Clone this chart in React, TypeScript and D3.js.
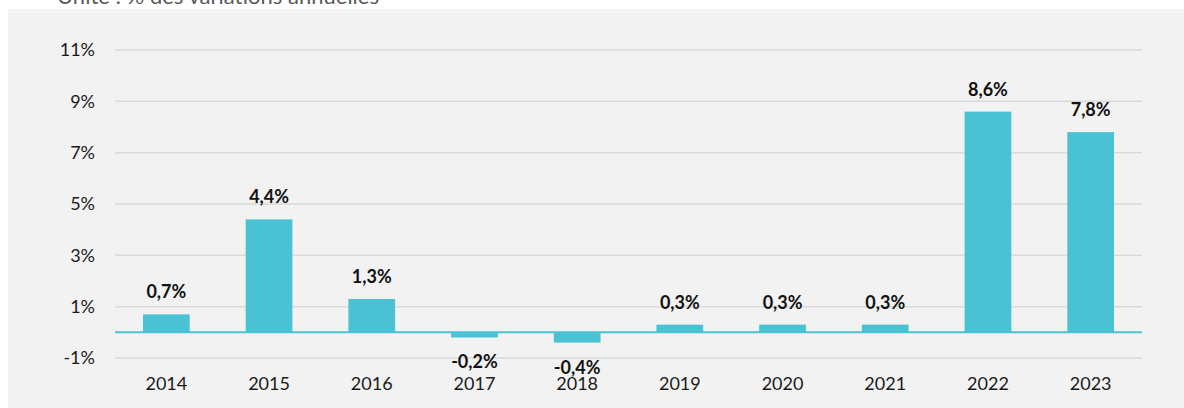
import { useEffect, useRef } from "react";
import * as d3 from "d3";

// values
const years = ["2014", "2015", "2016", "2017", "2018", "2019", "2020", "2021", "2022", "2023"];
const variations = [0.7, 4.4, 1.3, -0.2, -0.4, 0.3, 0.3, 0.3, 8.6, 7.8];
const yTicks = [-1, 1, 3, 5, 7, 9, 11];
const title = "Unité : % des variations annuelles";

const W = 1184;
const H = 408;
const FONT = "Lato, 'Open Sans', sans-serif";
const BAR = "#4AC2D4";

const fmt = (v: number) => `${v.toFixed(1).replace(".", ",")}%`;

const App = () => {
  const svgRef = useRef<SVGSVGElement>(null);

  useEffect(() => {
    const svg = d3.select(svgRef.current);
    svg.selectAll("*").remove();

    // panel
    svg.append("rect").attr("x", 8).attr("y", 9).attr("width", W - 8).attr("height", H - 9).attr("fill", "#f2f2f2");

    // title, clipped by the top edge like the reference
    svg
      .append("text")
      .attr("x", 57)
      .attr("y", 4)
      .attr("font-family", FONT)
      .attr("font-size", "22px")
      .attr("fill", "#595959")
      .text(title);

    const x = d3.scaleBand<string>().domain(years).range([115, 1142]).paddingInner(0.545).paddingOuter(0.2725);
    const y = d3.scaleLinear().domain([-1, 11]).range([358, 50]);

    // grid
    svg
      .append("g")
      .selectAll("line")
      .data(yTicks)
      .enter()
      .append("line")
      .attr("x1", 115)
      .attr("x2", 1142)
      .attr("y1", (d) => y(d))
      .attr("y2", (d) => y(d))
      .attr("stroke", "#d9d9d9")
      .attr("stroke-width", 1.5);

    // y labels
    svg
      .append("g")
      .selectAll("text")
      .data(yTicks)
      .enter()
      .append("text")
      .attr("x", 95)
      .attr("y", (d) => y(d))
      .attr("dy", "0.35em")
      .attr("text-anchor", "end")
      .attr("font-family", FONT)
      .attr("font-size", "18px")
      .attr("fill", "#1a1a1a")
      .text((d) => `${d}%`);

    // bars
    svg
      .append("g")
      .selectAll("rect")
      .data(variations)
      .enter()
      .append("rect")
      .attr("x", (_, i) => x(years[i])!)
      .attr("width", x.bandwidth())
      .attr("y", (d) => y(Math.max(0, d)))
      .attr("height", (d) => Math.abs(y(d) - y(0)))
      .attr("fill", BAR);

    // zero line
    svg
      .append("line")
      .attr("x1", 115)
      .attr("x2", 1142)
      .attr("y1", y(0))
      .attr("y2", y(0))
      .attr("stroke", BAR)
      .attr("stroke-width", 2);

    // value labels
    svg
      .append("g")
      .selectAll("text")
      .data(variations)
      .enter()
      .append("text")
      .attr("x", (_, i) => x(years[i])! + x.bandwidth() / 2)
      .attr("y", (d) => (d >= 0 ? y(d) - 16 : y(d) + 31))
      .attr("text-anchor", "middle")
      .attr("font-family", FONT)
      .attr("font-weight", "bold")
      .attr("font-size", "18px")
      .attr("fill", "#111")
      .text((d) => fmt(d));

    // x labels
    svg
      .append("g")
      .selectAll("text")
      .data(years)
      .enter()
      .append("text")
      .attr("x", (d) => x(d)! + x.bandwidth() / 2)
      .attr("y", 390)
      .attr("text-anchor", "middle")
      .attr("font-family", FONT)
      .attr("font-size", "18px")
      .attr("fill", "#1a1a1a")
      .text((d) => d);
  }, []);

  return <svg ref={svgRef} width={W} height={H} style={{ position: "absolute", left: 0, top: 0 }} />;
};

export default App;
